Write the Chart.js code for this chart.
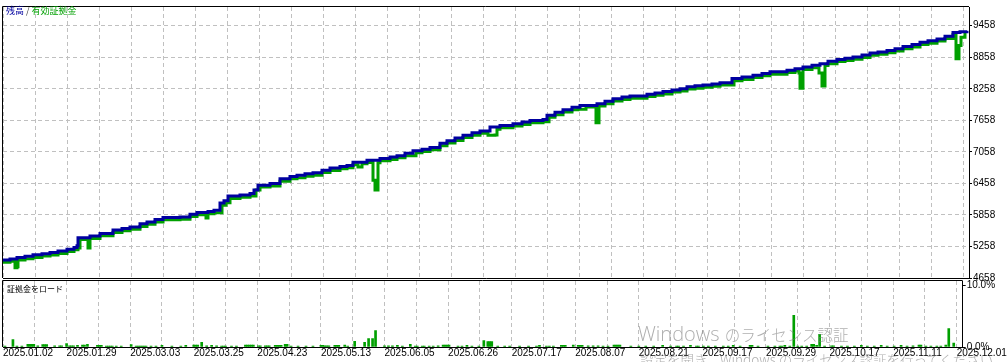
<!DOCTYPE html>
<html>
<head>
<meta charset="utf-8">
<script src="https://cdn.jsdelivr.net/npm/chart.js@4.4.1/dist/chart.umd.min.js"></script>
<style>
  body { margin: 0; background: #fff; }
  #wrap { position: relative; width: 1007px; height: 362px; overflow: hidden; }
  canvas { position: absolute; left: 0; top: 0; }
  .lbl { position: absolute; font-family: "Noto Sans CJK JP"; font-size: 9px; line-height: 12px; white-space: nowrap; }
  #legend { left: 6px; top: 5px; }
  #loadlabel { left: 7px; top: 283px; color: #000; font-size: 8px; }
  .wm { position: absolute; white-space: nowrap; color: rgba(120,120,120,0.6); font-family: "Open Sans", "Noto Sans CJK JP"; font-weight: 300; }
  #wm1 { left: 638px; top: 321px; font-size: 20px; line-height: 26px; }
  #wm1 .jp { font-family: "Noto Sans CJK JP"; font-size: 15.5px; }
  #wm2 { left: 640px; top: 351px; font-size: 13.5px; line-height: 16px; font-family: "Noto Sans CJK JP"; }
</style>
</head>
<body>
<div id="wrap">
  <canvas id="balancechart" width="1007" height="362"></canvas>
  <canvas id="loadchart" width="1007" height="362"></canvas>
  <div class="lbl" id="legend"><span style="color:#0000a0">残高</span><span style="color:#444"> / </span><span style="color:#00a000">有効証拠金</span></div>
  <div class="lbl" id="loadlabel">証拠金をロード</div>
  <div class="wm" id="wm1">Windows <span class="jp">のライセンス認証</span></div>
  <div class="wm" id="wm2">設定を開き、Windows のライセンス認証を行ってください。</div>
</div>
<script>
'use strict';

// x axis = trade number, dates shown on every other grid line
var dateLabels = ['2025.01.02', '2025.01.29', '2025.03.03', '2025.03.25', '2025.04.23', '2025.05.13',
  '2025.06.05', '2025.06.26', '2025.07.17', '2025.08.07', '2025.08.21', '2025.09.17',
  '2025.09.29', '2025.10.17', '2025.11.11', '2025.12.01'];
var balanceTicks = [4658, 5258, 5858, 6458, 7058, 7658, 8258, 8858, 9458];
var loadTicks = [0, 10];

var balanceTrade = [0, 7, 14, 22, 30, 39, 47, 55, 64, 71, 74, 75, 87, 97, 110, 119, 127, 137, 144, 152,
  160, 177, 187, 194, 205, 211, 217, 221, 225, 237, 247, 251, 255, 267, 277, 287, 294, 302, 310, 319,
  327, 337, 344, 350, 364, 377, 387, 394, 402, 410, 419, 427, 437, 444, 452, 460, 469, 477, 487, 497,
  510, 519, 527, 540, 544, 552, 560, 569, 577, 594, 602, 610, 619, 627, 644, 652, 660, 669, 677, 684,
  692, 700, 709, 717, 729, 739, 750, 759, 767, 784, 792, 800, 809, 817, 825, 834, 842, 850, 859, 867,
  875, 884, 892, 900, 909, 917, 925, 934, 942, 950, 957, 964];
var balance = [5000, 5020, 5048, 5070, 5099, 5118, 5142, 5170, 5205, 5240, 5273, 5425, 5455, 5505, 5573, 5600, 5629, 5690, 5723, 5770,
  5811, 5817, 5870, 5905, 5924, 5948, 6087, 6130, 6218, 6237, 6267, 6330, 6424, 6454, 6548, 6590, 6611, 6640, 6661, 6710,
  6749, 6780, 6799, 6861, 6899, 6930, 6960, 6986, 7030, 7080, 7110, 7142, 7220, 7268, 7320, 7373, 7420, 7455, 7530, 7560,
  7592, 7625, 7654, 7673, 7756, 7810, 7861, 7905, 7942, 7973, 8020, 8067, 8100, 8123, 8155, 8180, 8205, 8236, 8260, 8299,
  8315, 8329, 8350, 8374, 8455, 8480, 8517, 8550, 8580, 8611, 8640, 8674, 8705, 8736, 8780, 8817, 8840, 8862, 8900, 8937,
  8960, 8986, 9020, 9061, 9100, 9143, 9170, 9205, 9260, 9330, 9345, 9361];

var equityTrade = [0, 7, 11, 12, 14, 15, 22, 30, 39, 47, 55, 64, 71, 75, 77, 84, 85, 87, 97, 110,
  119, 127, 137, 144, 152, 160, 177, 187, 194, 203, 205, 211, 219, 223, 227, 237, 247, 253, 257, 267,
  277, 287, 294, 302, 310, 319, 327, 337, 344, 350, 355, 359, 364, 370, 372, 375, 377, 387, 394, 402,
  410, 413, 419, 427, 437, 444, 452, 460, 469, 477, 485, 492, 494, 497, 510, 519, 527, 540, 546, 552,
  560, 569, 575, 583, 593, 596, 602, 610, 619, 627, 644, 652, 660, 669, 677, 684, 692, 700, 709, 717,
  731, 739, 750, 759, 767, 784, 792, 796, 797, 800, 809, 816, 819, 822, 825, 834, 842, 850, 859, 867,
  875, 884, 892, 900, 909, 917, 925, 934, 942, 950, 953, 956, 958, 962];
var equity = [4960, 4975, 4990, 4855, 4870, 5000, 5025, 5050, 5075, 5095, 5125, 5160, 5195, 5230, 5390, 5400, 5230, 5410, 5460, 5525,
  5555, 5585, 5640, 5680, 5725, 5765, 5775, 5830, 5860, 5800, 5880, 5900, 6040, 6090, 6170, 6195, 6220, 6330, 6390, 6410,
  6500, 6545, 6565, 6595, 6615, 6665, 6705, 6735, 6755, 6815, 6770, 6830, 6855, 6518, 6333, 6850, 6890, 6915, 6945, 6985,
  6986, 7040, 7065, 7100, 7175, 7225, 7275, 7330, 7375, 7410, 7373, 7380, 7490, 7515, 7550, 7580, 7610, 7630, 7715, 7765,
  7815, 7860, 7870, 7910, 7611, 7930, 7975, 8025, 8055, 8080, 8110, 8135, 8160, 8195, 8215, 8255, 8270, 8285, 8305, 8330,
  8410, 8435, 8475, 8505, 8535, 8570, 8595, 8560, 8268, 8625, 8660, 8560, 8311, 8700, 8735, 8775, 8795, 8820, 8855, 8895,
  8915, 8945, 8975, 9020, 9055, 9100, 9125, 9165, 9215, 9290, 8830, 9080, 9240, 9340];

// deposit load, percent
var loadTrade = [2, 10, 14, 19, 25, 27, 29, 31, 35, 40, 42, 44, 52, 57, 59, 64, 67, 69, 71, 75,
  80, 82, 85, 95, 97, 99, 104, 106, 108, 110, 114, 119, 129, 134, 136, 138, 140, 142, 144, 149,
  154, 160, 170, 179, 184, 192, 194, 196, 200, 205, 210, 215, 220, 222, 224, 230, 235, 244, 246, 248,
  250, 252, 257, 259, 264, 266, 268, 274, 276, 278, 280, 284, 286, 290, 297, 305, 312, 320, 322, 324,
  326, 328, 334, 336, 338, 344, 347, 354, 364, 368, 372, 375, 384, 388, 392, 397, 402, 410, 415, 417,
  422, 424, 429, 433, 438, 443, 445, 447, 449, 458, 462, 467, 472, 479, 484, 488, 490, 492, 498, 505,
  510, 520, 529, 537, 540, 547, 550, 554, 562, 564, 566, 574, 579, 581, 583, 589, 594, 599, 604, 609,
  615, 617, 619, 621, 632, 640, 647, 655, 664, 672, 678, 680, 685, 692, 698, 700, 705, 710, 717, 725,
  730, 735, 742, 752, 754, 760, 770, 777, 782, 784, 787, 792, 796, 800, 804, 809, 814, 816, 819, 822,
  827, 834, 836, 844, 850, 857, 864, 870, 877, 884, 890, 897, 904, 910, 916, 922, 924, 929, 934, 940,
  944, 949, 952, 957];
var load = [0.16, 1.18, 0.16, 0.16, 0.43, 0.43, 0.43, 0.43, 0.2, 0.38, 0.38, 0.38, 0.2, 0.2, 0.2, 0.54, 0.2, 0.2, 0.2, 0.27,
  0.32, 0.32, 0.43, 0.27, 0.27, 0.27, 0.16, 0.16, 0.16, 0.16, 0.16, 0.16, 0.38, 0.16, 0.16, 0.16, 0.16, 0.16, 0.16, 0.16,
  0.16, 0.27, 0.16, 0.16, 0.27, 0.32, 0.32, 0.32, 0.75, 0.2, 0.27, 0.2, 0.16, 0.16, 0.16, 0.16, 0.16, 0.32, 0.32, 0.32,
  0.32, 0.32, 0.2, 0.2, 0.2, 0.2, 0.2, 0.27, 0.27, 0.27, 0.27, 0.43, 0.43, 0.16, 0.16, 0.16, 0.16, 0.27, 0.27, 0.2,
  0.2, 0.2, 0.27, 0.27, 0.27, 0.32, 0.16, 0.91, 0.75, 1.34, 1.34, 2.63, 0.2, 0.2, 0.2, 0.27, 0.16, 0.43, 0.16, 0.16,
  0.16, 0.16, 0.16, 0.16, 0.2, 0.32, 0.32, 0.32, 0.32, 0.16, 0.16, 0.27, 0.16, 0.16, 1.02, 0.86, 0.86, 0.86, 0.16, 0.16,
  0.16, 0.16, 0.16, 0.16, 0.27, 0.16, 0.16, 0.16, 0.27, 0.27, 0.27, 0.32, 0.27, 0.27, 0.27, 0.2, 0.2, 0.2, 0.16, 0.16,
  0.32, 0.32, 0.32, 0.32, 0.16, 0.16, 0.16, 0.16, 0.27, 0.16, 0.16, 0.16, 0.16, 0.27, 0.16, 0.16, 0.16, 0.16, 0.16, 0.16,
  0.16, 0.27, 0.16, 0.27, 0.27, 0.16, 0.16, 0.16, 0.16, 0.16, 0.27, 0.16, 5.1, 0.16, 0.16, 0.16, 0.43, 0.43, 0.27, 2.04,
  0.16, 0.2, 0.2, 0.16, 0.16, 0.16, 0.27, 0.16, 0.16, 0.27, 0.16, 0.16, 0.27, 0.16, 0.2, 0.32, 0.32, 0.16, 0.16, 0.16,
  0.16, 0.32, 2.96, 0.65];

var lastTrade = 966;

function toPoints(xs, ys) {
  return xs.map(function(x, i) { return {x: x, y: ys[i]}; });
}

var tickFont = {family: "'Liberation Sans'", size: 10};
var gridGray = '#c0c0c0';

// left + top edges of the plot box
var framePlugin = {
  id: 'frame',
  afterDraw: function(chart) {
    var a = chart.chartArea;
    var ctx = chart.ctx;
    ctx.save();
    ctx.strokeStyle = '#000';
    ctx.lineWidth = 1;
    ctx.beginPath();
    ctx.moveTo(a.left - 0.5, a.bottom);
    ctx.lineTo(a.left - 0.5, a.top - 0.5);
    ctx.lineTo(a.right, a.top - 0.5);
    ctx.stroke();
    ctx.restore();
  }
};

function gridTicks(scale) {
  var t = [];
  for (var v = 0; v <= lastTrade - 6; v += 32) t.push({value: v});
  scale.ticks = t;
}

function xAxis(showLabels, height) {
  return {
    type: 'linear',
    min: 0,
    max: lastTrade,
    offset: false,
    afterBuildTicks: gridTicks,
    afterFit: function(scale) { scale.height = height; },
    grid: {color: gridGray, drawTicks: false, offset: false},
    border: {display: true, color: '#000', width: 1, dash: [4, 3]},
    ticks: {
      display: showLabels,
      autoSkip: false,
      maxRotation: 0,
      minRotation: 0,
      align: 'start',
      padding: 0,
      color: '#000',
      font: tickFont,
      callback: function(v, i) { return i % 2 === 0 ? dateLabels[i / 2] : ''; }
    }
  };
}

new Chart(document.getElementById('balancechart'), {
  type: 'line',
  data: {
    datasets: [{
      label: '残高',
      data: toPoints(balanceTrade, balance),
      borderColor: '#0000a0',
      borderWidth: 3,
      stepped: true,
      pointRadius: 0,
      fill: false
    }, {
      label: '有効証拠金',
      data: toPoints(equityTrade, equity),
      borderColor: '#00a000',
      borderWidth: 3,
      stepped: true,
      pointRadius: 0,
      fill: false
    }]
  },
  options: {
    responsive: false,
    animation: false,
    events: [],
    layout: {padding: {left: 3, top: 3, right: 0, bottom: 84}, autoPadding: false},
    plugins: {legend: {display: false}, tooltip: {enabled: false}},
    scales: {
      x: xAxis(false, 0),
      y: {
        position: 'right',
        min: 4658,
        max: 9814.25,
        afterBuildTicks: function(scale) {
          scale.ticks = balanceTicks.map(function(v) { return {value: v}; });
        },
        afterFit: function(scale) { scale.width = 38; },
        grid: {color: gridGray, tickColor: '#000', tickLength: 3, tickBorderDash: []},
        border: {display: true, color: '#000', width: 1, dash: [4, 3]},
        ticks: {padding: 1, color: '#000', font: tickFont, callback: function(v) { return String(v); }}
      }
    }
  },
  plugins: [framePlugin]
});

new Chart(document.getElementById('loadchart'), {
  type: 'bar',
  data: {
    datasets: [{
      label: '証拠金をロード',
      data: toPoints(loadTrade, load),
      backgroundColor: '#00a000',
      borderWidth: 0,
      barThickness: 2
    }]
  },
  options: {
    responsive: false,
    animation: false,
    events: [],
    layout: {padding: {left: 3, top: 281, right: 0, bottom: 0}, autoPadding: false},
    plugins: {legend: {display: false}, tooltip: {enabled: false}},
    scales: {
      x: xAxis(true, 15),
      y: {
        position: 'right',
        min: 0,
        max: 10.65,
        afterBuildTicks: function(scale) {
          scale.ticks = loadTicks.map(function(v) { return {value: v}; });
        },
        afterFit: function(scale) { scale.width = 38; },
        grid: {drawOnChartArea: false, tickColor: '#000', tickLength: 3},
        border: {display: true, color: '#000', width: 1},
        ticks: {padding: 1, color: '#000', font: tickFont, callback: function(v) { return v.toFixed(1) + '%'; }}
      }
    }
  },
  plugins: [framePlugin]
});
</script>
</body>
</html>
